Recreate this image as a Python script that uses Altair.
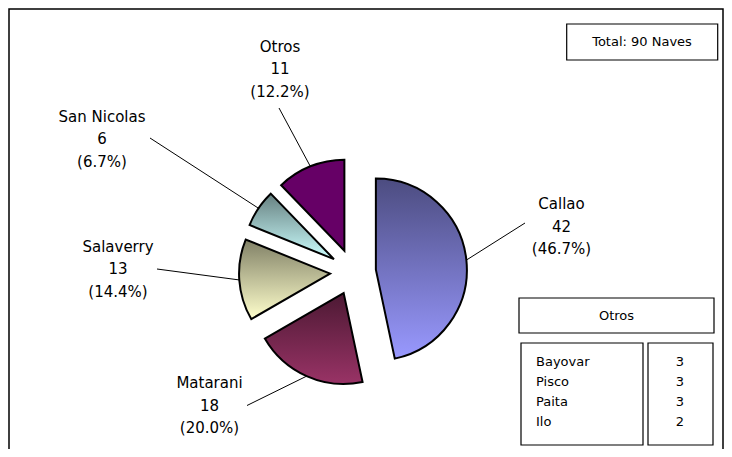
import altair as alt
import pandas as pd

# ---------------- data ----------------
ports = ["Callao", "Matarani", "Salaverry", "San Nicolas", "Otros"]
naves = [42, 18, 13, 6, 11]
color_top = ["#4c4c80", "#4c1933", "#808066", "#668080", "#660066"]
color_bottom = ["#9999ff", "#993366", "#ffffcc", "#ccffff", "#660066"]

otros_ports = ["Bayovar", "Pisco", "Paita", "Ilo"]
otros_naves = [3, 3, 3, 2]

# ---------------- layout (chart pixel coordinates) ----------------
W, H = 716, 441
CX, CY, R, EXPLODE = 345, 264, 91, 23
label_x = [553.5, 201.5, 110, 94, 272]
label_y = [196, 375, 238.7, 108.7, 38.7]   # first line centre
leader_x = [517, 239, 149, 142, 271]
leader_y = [215, 397.5, 261, 130, 100]

box_x = [558.7, 511, 513, 640]
box_x2 = [709.7, 706, 635, 705]
box_y = [16, 290, 335, 335]
box_y2 = [52, 325, 437, 437]
box_text = [f"Total: {sum(naves)} Naves", ports[-1]]
box_text_x = [634, 608.5]
box_text_y = [34, 308]
ROW_X_NAME, ROW_X_VAL, ROW_Y0, ROW_STEP = 528, 672, 353.7, 20

FONT = "DejaVu Sans"

pie_df = pd.DataFrame({
    "port": ports, "naves": naves, "order": list(range(len(ports))),
    "lx": label_x, "ly": label_y, "sx": leader_x, "sy": leader_y,
})

base = (
    alt.Chart(pie_df)
    .transform_joinaggregate(total="sum(naves)")
    .transform_window(cum="sum(naves)", sort=[alt.SortField("order")], frame=[None, 0])
    .transform_calculate(t0="2*PI*(datum.cum-datum.naves)/datum.total")
    .transform_calculate(t1="2*PI*datum.cum/datum.total")
    .transform_calculate(tm="(datum.t0+datum.t1)/2")
    .transform_calculate(cx=f"{CX}+{EXPLODE}*sin(datum.tm)")
    .transform_calculate(cy=f"{CY}-{EXPLODE}*cos(datum.tm)")
    .transform_calculate(ex=f"datum.cx+{R}*sin(datum.tm)")
    .transform_calculate(ey=f"datum.cy-{R}*cos(datum.tm)")
    .transform_calculate(
        label="datum.port + '\\n' + datum.naves + '\\n(' + format(100*datum.naves/datum.total, '.1f') + '%)'"
    )
)

# outer frame
frame = alt.Chart(pd.DataFrame({"a": [0]})).mark_rect(
    fill="white", stroke="black", strokeWidth=1.5
).encode(
    x=alt.value(1), x2=alt.value(715), y=alt.value(1), y2=alt.value(470)
)

arcs = []
for p, ct, cb in zip(ports, color_top, color_bottom):
    grad = alt.Gradient(
        gradient="linear",
        stops=[alt.GradientStop(color=ct, offset=0), alt.GradientStop(color=cb, offset=1)],
        x1=0, x2=0, y1=0, y2=1,
    )
    arcs.append(
        base.transform_filter(alt.datum.port == p)
        .mark_arc(radius=R, stroke="black", strokeWidth=2, fill=grad)
        .encode(
            theta=alt.Theta("t0:Q", scale=None, stack=None),
            theta2="t1:Q",
            x=alt.X("cx:Q", scale=None, axis=None),
            y=alt.Y("cy:Q", scale=None, axis=None),
        )
    )

leaders = base.mark_rule(color="black", strokeWidth=1).encode(
    x=alt.X("sx:Q", scale=None, axis=None),
    y=alt.Y("sy:Q", scale=None, axis=None),
    x2="ex:Q",
    y2="ey:Q",
)

labels = base.mark_text(
    font=FONT, fontSize=15, lineBreak="\n", lineHeight=22.5,
    align="center", baseline="middle", color="black",
).encode(
    x=alt.X("lx:Q", scale=None, axis=None),
    y=alt.Y("ly:Q", scale=None, axis=None),
    text="label:N",
)

boxes_df = pd.DataFrame({"x": box_x, "x2": box_x2, "y": box_y, "y2": box_y2})
boxes = alt.Chart(boxes_df).mark_rect(fill="white", stroke="black", strokeWidth=1.2).encode(
    x=alt.X("x:Q", scale=None, axis=None), x2="x2:Q",
    y=alt.Y("y:Q", scale=None, axis=None), y2="y2:Q",
)

box_text_df = pd.DataFrame({"t": box_text, "x": box_text_x, "y": box_text_y})
box_texts = alt.Chart(box_text_df).mark_text(
    font=FONT, fontSize=13, align="center", baseline="middle", color="black"
).encode(
    x=alt.X("x:Q", scale=None, axis=None),
    y=alt.Y("y:Q", scale=None, axis=None),
    text="t:N",
)

rows_df = pd.DataFrame({"name": otros_ports, "val": otros_naves, "row": list(range(len(otros_ports)))})
rows_base = alt.Chart(rows_df).transform_calculate(ry=f"{ROW_Y0}+datum.row*{ROW_STEP}")
row_names = rows_base.mark_text(
    font=FONT, fontSize=13, align="left", baseline="middle", color="black"
).encode(
    x=alt.value(ROW_X_NAME),
    y=alt.Y("ry:Q", scale=None, axis=None),
    text="name:N",
)
row_vals = rows_base.mark_text(
    font=FONT, fontSize=13, align="center", baseline="middle", color="black"
).encode(
    x=alt.value(ROW_X_VAL),
    y=alt.Y("ry:Q", scale=None, axis=None),
    text="val:Q",
)

chart = alt.layer(
    frame, *arcs, leaders, labels, boxes, box_texts, row_names, row_vals
).properties(
    width=W, height=H, autosize=alt.AutoSizeParams(type="none"), padding=0
).configure_view(stroke=None)

chart.save("out.html", embed_options={"renderer": "svg", "actions": False})
